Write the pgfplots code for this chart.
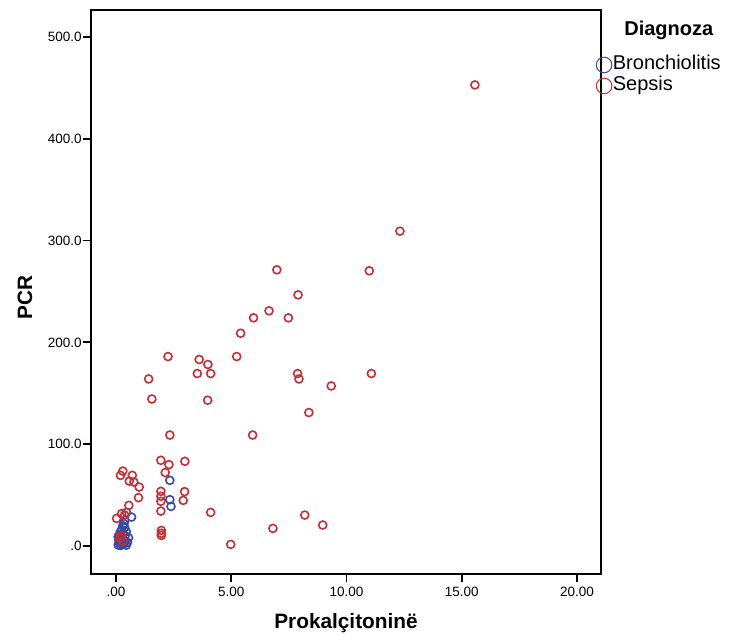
\documentclass[border=0pt]{standalone}
\usepackage{fontspec}
\setmainfont{Liberation Sans}
\usepackage{pgfplots}
\pgfplotsset{compat=1.18}
\definecolor{bblue}{RGB}{55,75,165}
\definecolor{sred}{RGB}{200,45,52}
\begin{document}
\begin{tikzpicture}
\path[use as bounding box] (-45.5pt,-31.5pt) rectangle (319.5pt,287pt);
\begin{axis}[
 at={(0pt,0pt)}, anchor=south west,
 scale only axis, width=255pt, height=282pt,
 xmin=-1.08, xmax=21.04, ymin=-27.5, ymax=526.5,
 clip=false,
 axis line style={line width=0.9pt},
 xtick={0,5,10,15,20}, xticklabels={.00,5.00,10.00,15.00,20.00},
 ytick={0,100,200,300,400,500}, yticklabels={.0,100.0,200.0,300.0,400.0,500.0},
 tick align=outside, xtick pos=bottom, ytick pos=left, major tick length=4pt,
 tick style={line width=0.9pt, black},
 ticklabel style={font=\fontsize{6.75}{8}\selectfont},
 xticklabel style={inner sep=0pt, yshift=-2.5pt},
 yticklabel style={inner sep=0pt, xshift=-0.5pt},
 xlabel={\textbf{Prokalçitoninë}}, ylabel={\textbf{PCR}},
 label style={font=\fontsize{10.4}{12}\selectfont},
 xlabel style={at={(axis description cs:0.5,-0.0869)}, anchor=center},
 ylabel style={at={(axis description cs:-0.1294,0.49)}, anchor=center},
 legend style={at={(rel axis cs:0.990,0.921)}, anchor=north west, draw=none, fill=none,
   inner sep=0pt, column sep=0pt, row sep=0.5pt,
   font=\fontsize{10}{12}\selectfont,
   nodes={inner sep=0.5pt, text height=7pt, text depth=2pt}},
 legend cell align=left,
 legend image code/.code={\draw[#1,mark size=3.9pt,line width=0.5pt] plot coordinates {(0pt,0pt)};},
]
\addplot[only marks, mark=o, mark size=2.0pt, color=bblue, line width=0.8pt] coordinates {
(2.34,64.5) (2.34,45.5) (2.39,38.9) (0.68,28.4) (0.39,25.2) (0.46,33.0)
(0.10,1.0) (0.20,0.5) (0.30,1.5) (0.45,0.8) (0.15,3.0) (0.35,2.5) (0.25,4.0)
(0.40,5.0) (0.12,6.0) (0.30,7.0) (0.50,3.5) (0.20,8.5) (0.40,10.0) (0.15,11.0)
(0.30,12.5) (0.45,14.0) (0.25,16.0) (0.38,18.0) (0.30,20.0) (0.20,14.0)
(0.55,8.0) (0.10,9.0) (0.35,22.0)
};
\addlegendentry{Bronchiolitis}
\addplot[only marks, mark=o, mark size=2.0pt, color=sred, line width=0.8pt] coordinates {
(15.57,452.9) (12.32,309.3) (10.99,270.3) (6.98,271.3) (7.90,246.7) (6.64,231.0)
(5.97,224.1) (7.48,224.1) (5.41,209.0) (2.26,186.1) (5.24,186.1) (3.61,183.2)
(3.99,178.3) (3.53,169.4) (4.11,169.4) (1.42,164.1) (7.88,169.4) (7.94,164.1)
(11.08,169.4) (9.34,157.2) (1.56,144.4) (3.98,143.2) (8.37,131.1) (2.34,109.0)
(5.93,109.0) (1.95,84.2) (2.30,79.9) (2.99,83.2) (2.14,72.1) (0.30,73.6)
(0.20,69.4) (0.71,69.4) (0.58,63.8) (0.78,62.8) (1.01,57.9) (0.98,47.5)
(1.95,53.7) (1.95,48.8) (1.95,43.9) (2.98,53.4) (2.92,44.8) (1.95,34.3)
(4.11,33.0) (0.56,39.9) (0.03,27.1) (0.38,30.4) (0.25,31.8) (1.97,15.3) (1.97,10.4)
(1.97,12.5) (4.98,1.6) (6.81,17.3) (8.19,30.4) (8.97,20.6) (0.17,8.0)
(0.25,10.0) (0.30,5.0)
};
\addlegendentry{Sepsis}
\node[font=\bfseries\fontsize{10}{12}\selectfont] at (rel axis cs:1.133,0.963) {Diagnoza};
\end{axis}
\end{tikzpicture}
\end{document}
